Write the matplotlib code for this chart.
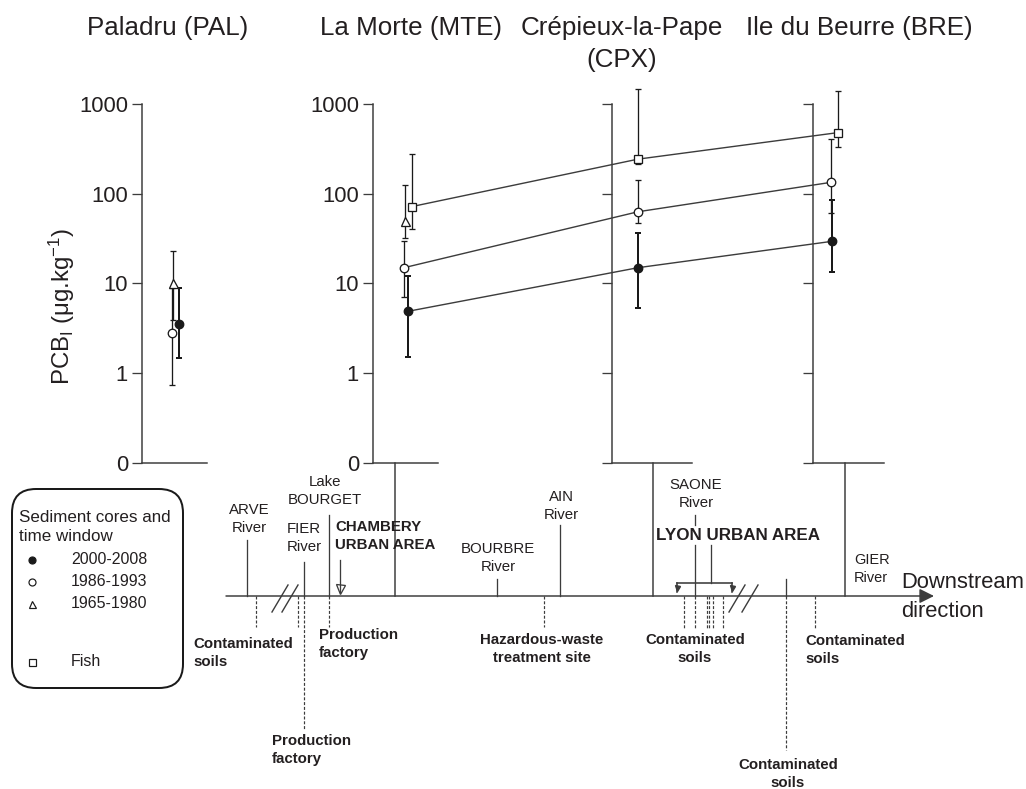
import matplotlib
matplotlib.use('Agg')
import matplotlib.pyplot as plt
from matplotlib.patches import FancyBboxPatch

# ---------------- data ----------------
sites = ['PAL', 'MTE', 'CPX', 'BRE']
titles = ['Paladru (PAL)', 'La Morte (MTE)', 'Crépieux-la-Pape\n(CPX)', 'Ile du Beurre (BRE)']
y_ticks = [0.1, 1, 10, 100, 1000]
y_ticklabels = ['0', '1', '10', '100', '1000']

# sediment cores 2000-2008 (filled circles)
pcb_2000_2008 = [3.5, 4.9, 15, 29.5]
pcb_2000_2008_low = [1.47, 1.5, 5.3, 13.5]
pcb_2000_2008_high = [8.8, 12, 37, 85]
# sediment cores 1986-1993 (open circles)
pcb_1986_1993 = [2.8, 15, 63, 134]
pcb_1986_1993_low = [0.74, 7.1, 47, 61]
pcb_1986_1993_high = [9, 30, 141, 412]
# sediment cores 1965-1980 (open triangles)
sites_1965_1980 = ['PAL', 'MTE']
pcb_1965_1980 = [10, 50]
pcb_1965_1980_low = [3.9, 32]
pcb_1965_1980_high = [23, 126]
# fish (open squares)
sites_fish = ['MTE', 'CPX', 'BRE']
pcb_fish = [72, 243, 480]
pcb_fish_low = [40.5, 215, 330]
pcb_fish_high = [280, 1456, 1382]

legend_labels = ['2000-2008', '1986-1993', '1965-1980', 'Fish']

# ---------------- layout (pixels) ----------------
W, H, DPI = 1026, 789, 100
def pt(p):
    return p * 72.0 / DPI

panel_x = {'PAL': (142, 207), 'MTE': (373, 438), 'CPX': (612, 692), 'BRE': (813, 884)}
Y_TOP, Y_BOT = 104, 463
title_cx = {'PAL': 168, 'MTE': 411, 'CPX': 622, 'BRE': 859}
title_base = {'PAL': 35, 'MTE': 35, 'CPX': 67, 'BRE': 35}
x_2000 = {'PAL': 179, 'MTE': 408, 'CPX': 638, 'BRE': 832}
x_1986 = {'PAL': 172, 'MTE': 404, 'CPX': 638, 'BRE': 831}
x_1965 = {'PAL': 172.5, 'MTE': 405}
x_fish = {'MTE': 412, 'CPX': 638, 'BRE': 838}

TXT = '#231f20'
LN = '#3c3c3c'

plt.rcParams['font.family'] = ['Liberation Sans', 'DejaVu Sans']
plt.rcParams['mathtext.fontset'] = 'custom'
plt.rcParams['mathtext.rm'] = 'Liberation Sans'
plt.rcParams['mathtext.it'] = 'Liberation Sans:italic'
plt.rcParams['mathtext.bf'] = 'Liberation Sans:bold'

fig = plt.figure(figsize=(W / DPI, H / DPI), dpi=DPI)

def rect(x0, x1, ytop, ybot):
    return [x0 / W, 1 - ybot / H, (x1 - x0) / W, (ybot - ytop) / H]

# schematic / annotation layer (pixel coordinates)
sax = fig.add_axes([0, 0, 1, 1], zorder=0)
sax.set_xlim(0, W)
sax.set_ylim(H, 0)
sax.axis('off')

# panel axes
for i, s in enumerate(sites):
    x0, x1 = panel_x[s]
    pa = fig.add_axes(rect(x0, x1, Y_TOP, Y_BOT), zorder=1)
    pa.patch.set_alpha(0)
    pa.set_yscale('log')
    pa.set_ylim(0.1, 1000)
    pa.set_xlim(0, 1)
    pa.set_xticks([])
    pa.set_yticks(y_ticks)
    pa.yaxis.set_minor_locator(matplotlib.ticker.NullLocator())
    if s in ('PAL', 'MTE'):
        pa.set_yticklabels(y_ticklabels)
    else:
        pa.set_yticklabels([''] * len(y_ticks))
    pa.tick_params(axis='y', direction='out', length=pt(10), width=pt(1.3), color=LN,
                   labelsize=pt(22), labelcolor=TXT, pad=pt(4))
    for sp in ('top', 'right'):
        pa.spines[sp].set_visible(False)
    for sp in ('left', 'bottom'):
        pa.spines[sp].set_color(LN)
        pa.spines[sp].set_linewidth(pt(1.5))
    sax.text(title_cx[s], title_base[s], titles[i], ha='center', va='baseline', fontsize=pt(26),
             color=TXT, linespacing=1.4)

sax.text(62, 306, r'PCB$_{\mathrm{I}}$ ($\mathrm{\mu}$g.kg$^{\mathrm{-1}}$)', rotation=90,
         ha='center', va='center', fontsize=pt(24), color=TXT)

# data axes (shared log scale, x in pixel layout units)
ax = fig.add_axes(rect(0, W, Y_TOP, Y_BOT), zorder=2)
ax.patch.set_alpha(0)
ax.set_yscale('log')
ax.set_ylim(0.1, 1000)
ax.set_xlim(0, W)
ax.axis('off')

def series(sl, xs, vals, lo, hi, marker, fc, ms, elw, connect):
    xx = [xs[s] for s in sl]
    err = [[v - l for v, l in zip(vals, lo)], [h - v for v, h in zip(vals, hi)]]
    if connect:
        idx = [k for k, s in enumerate(sl) if s != 'PAL']
        ax.plot([xx[k] for k in idx], [vals[k] for k in idx], '-', color=LN, lw=pt(1.4),
                zorder=3, clip_on=False)
    eb = ax.errorbar(xx, vals, yerr=err, fmt='none', ecolor='#1a1a1a', elinewidth=pt(elw),
                     capsize=pt(3), capthick=pt(elw), zorder=4, clip_on=False)
    for a in list(eb.lines[1]) + list(eb.lines[2]):
        a.set_clip_on(False)
    ax.plot(xx, vals, linestyle='none', marker=marker, ms=pt(ms), mfc=fc, mec='#1a1a1a',
            mew=pt(1.3), zorder=5, clip_on=False)

series(sites, x_1986, pcb_1986_1993, pcb_1986_1993_low, pcb_1986_1993_high, 'o', 'white', 8.5, 1.3, True)
series(sites_1965_1980, x_1965, pcb_1965_1980, pcb_1965_1980_low, pcb_1965_1980_high, '^', 'white', 9, 1.3, False)
series(sites_fish, x_fish, pcb_fish, pcb_fish_low, pcb_fish_high, 's', 'white', 8.5, 1.3, True)
series(sites, x_2000, pcb_2000_2008, pcb_2000_2008_low, pcb_2000_2008_high, 'o', '#1a1a1a', 8.5, 2.0, True)

# ---------------- schematic below the panels ----------------
AX_Y = 596
lw = pt(1.5)
sax.annotate('', xy=(934, AX_Y), xytext=(226, AX_Y),
             arrowprops=dict(arrowstyle='-|>', color=LN, lw=lw, mutation_scale=22,
                             shrinkA=0, shrinkB=0))

# drop lines from sites to the river axis
for x in (395, 653, 845):
    sax.plot([x, x], [Y_BOT, AX_Y], color=LN, lw=lw)

# tributaries / inputs (solid, above axis)
solid_segments = [
    (247, 540, AX_Y), (304, 562, AX_Y), (329, 515, AX_Y),
    (497, 579, AX_Y), (560, 525, AX_Y),
    (695, 515, 525), (695, 545, AX_Y), (711, 545, 583),
    (786, 579, AX_Y),
]
for x, y0, y1 in solid_segments:
    sax.plot([x, x], [y0, y1], color=LN, lw=pt(1.3))

# Chambery arrow
sax.plot([340, 340], [560, 592], color=LN, lw=pt(1.3))
sax.plot([340], [589], marker='v', ms=pt(9), mfc='none', mec=LN, mew=pt(1.3))

# Lyon bracket
sax.plot([677, 732], [583, 583], color=LN, lw=pt(1.6))
for x in (677, 732):
    sax.plot([x, x], [583, 592], color=LN, lw=pt(1.6))
    sax.plot([x], [588], marker='v', ms=pt(5), color=LN)

# dashed lines (below axis)
dashed = [(256, 627), (298, 627), (304, 730), (329, 627), (544, 627),
          (684, 628), (695, 628), (707, 628), (709, 628), (713, 628), (723, 628),
          (786, 750), (815, 628)]
for x, y1 in dashed:
    sax.plot([x, x], [AX_Y, y1], color=LN, lw=pt(1.2), dashes=(2.5, 1.5))

# breaks
for (xa, xb) in ((272, 288), (282, 298), (729, 745), (742, 758)):
    sax.plot([xa, xb], [612, 585], color=LN, lw=pt(1.4))

# labels
def lab(s, x, y, ha='center', bold=False, size=15, ls=1.45, color=TXT):
    sax.text(x, y, s, ha=ha, va='center', fontsize=pt(size), color=color,
             fontweight='bold' if bold else 'normal', linespacing=ls)

lab('ARVE\nRiver', 249, 519)
lab('FIER\nRiver', 304, 538)
lab('Lake\nBOURGET', 325, 491)
lab('CHAMBERY\nURBAN AREA', 335, 536, ha='left', bold=True)
lab('BOURBRE\nRiver', 498, 558)
lab('AIN\nRiver', 561, 506)
lab('SAONE\nRiver', 696, 494)
lab('LYON URBAN AREA', 738, 535, bold=True, size=17)
lab('GIER\nRiver', 854, 569, ha='left', size=14.5)
lab('Downstream\ndirection', 901, 597, ha='left', size=22, ls=1.55)

lab('Contaminated\nsoils', 193, 653, ha='left', bold=True)
lab('Production\nfactory', 319, 644, ha='left', bold=True)
lab('Production\nfactory', 272, 750, ha='left', bold=True)
lab('Hazardous-waste\ntreatment site', 542, 649, bold=True)
lab('Contaminated\nsoils', 695, 649, bold=True)
lab('Contaminated\nsoils', 805, 650, ha='left', bold=True)
lab('Contaminated\nsoils', 788, 774, bold=True)

# ---------------- legend box ----------------
box = FancyBboxPatch((12, 489), 171, 199, boxstyle='round,pad=0,rounding_size=24',
                     fc='none', ec='#1a1a1a', lw=pt(2))
sax.add_patch(box)
lab('Sediment cores and\ntime window', 19, 527, ha='left', size=17, ls=1.35)
leg_style = [('o', '#1a1a1a', 560), ('o', 'white', 582), ('^', 'white', 604), ('s', 'white', 662)]
for (m, fc, y), t in zip(leg_style, legend_labels):
    sax.plot([32], [y], marker=m, ms=pt(7), mfc=fc, mec='#1a1a1a', mew=pt(1.2), linestyle='none')
    lab(t, 71, y, ha='left', size=16)

fig.savefig('out.png', dpi=DPI)
